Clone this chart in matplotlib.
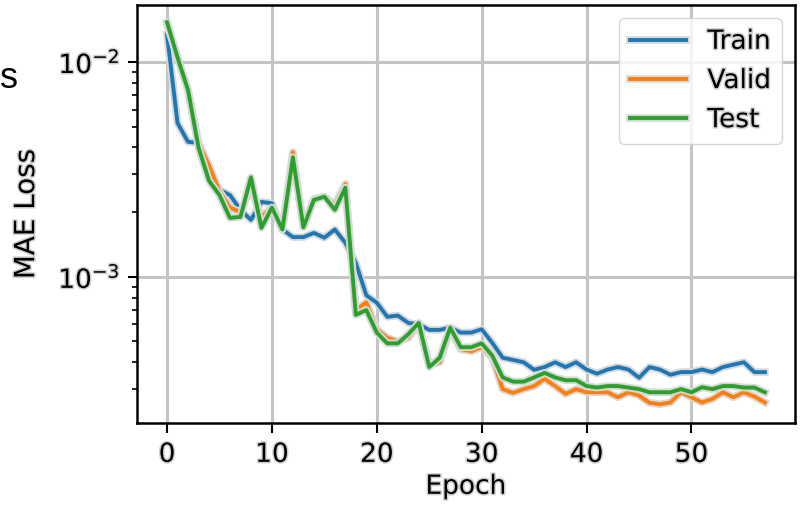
import matplotlib
matplotlib.use("Agg")
import matplotlib.pyplot as plt
import matplotlib.patheffects as pe
import numpy as np

epochs = list(range(58))
train = [0.0134, 0.0052, 0.00425, 0.0042, 0.00283, 0.00254, 0.0024, 0.00205, 0.00184, 0.00223,
         0.0022, 0.00166, 0.00153, 0.00153, 0.0016, 0.00152, 0.00166, 0.00144, 0.00116, 0.00082,
         0.000757, 0.000651, 0.00066, 0.00061, 0.0006, 0.000566, 0.000566, 0.00058, 0.00055, 0.00055,
         0.00057, 0.000493, 0.00042, 0.00041, 0.0004, 0.000369, 0.00038, 0.0004, 0.00038, 0.0004,
         0.00037, 0.000354, 0.00037, 0.00038, 0.00037, 0.000339, 0.00038, 0.00037, 0.00035, 0.00036,
         0.00036, 0.00037, 0.00036, 0.00038, 0.00039, 0.0004, 0.00036, 0.00036]
valid = [0.0150, 0.0105, 0.0074, 0.0042, 0.0033, 0.0025, 0.0021, 0.0020, 0.0026, 0.0019,
         0.0021, 0.00166, 0.0038, 0.0017, 0.0023, 0.00236, 0.00216, 0.0027, 0.0007, 0.00076,
         0.00057, 0.00052, 0.0005, 0.00052, 0.0006, 0.00039, 0.0004, 0.00057, 0.00046, 0.00045,
         0.00047, 0.00042, 0.00030, 0.000288, 0.0003, 0.00031, 0.000335, 0.00031, 0.000285, 0.0003,
         0.00029, 0.00029, 0.00029, 0.000275, 0.00029, 0.00028, 0.000259, 0.000255, 0.00026, 0.00029,
         0.000275, 0.00026, 0.00027, 0.00029, 0.000275, 0.00029, 0.000277, 0.00026]
test = [0.0153, 0.0105, 0.0074, 0.0040, 0.0028, 0.0024, 0.00188, 0.0019, 0.0029, 0.00169,
        0.0021, 0.00166, 0.0036, 0.0017, 0.00228, 0.00236, 0.00205, 0.0026, 0.000665, 0.0007,
        0.00055, 0.00049, 0.00049, 0.00054, 0.00061, 0.00038, 0.00042, 0.00058, 0.00047, 0.00047,
        0.00049, 0.00043, 0.00034, 0.000325, 0.000325, 0.00034, 0.000357, 0.00034, 0.00033, 0.00033,
        0.00031, 0.000305, 0.00031, 0.00031, 0.000305, 0.0003, 0.00029, 0.00029, 0.00029, 0.0003,
        0.00029, 0.000306, 0.0003, 0.00031, 0.00031, 0.000305, 0.000305, 0.00029]
series_labels = ["Train", "Valid", "Test"]
x_ticks = [0, 10, 20, 30, 40, 50]

FS = 19
halo = [pe.withStroke(linewidth=5.5, foreground="#d8d8d8")]
thalo = [pe.withStroke(linewidth=2.2, foreground="#cfcfcf")]

fig = plt.figure(figsize=(8.02, 5.07), dpi=100)
ax = fig.add_axes([0.171, 0.166, 0.820, 0.824])

for ys, lab, col in zip([train, valid, test], series_labels, ["tab:blue", "tab:orange", "tab:green"]):
    ax.plot(epochs, ys, color=col, lw=2.8, label=lab, path_effects=halo)

ax.set_yscale("log")
ax.set_ylim(0.000209, 0.0184)
ax.set_xticks(x_ticks)
ax.grid(True, which="major", color="#c4c4c4", lw=2.2)
ax.set_axisbelow(True)
for s in ax.spines.values():
    s.set_linewidth(1.8)
ax.tick_params(axis="x", which="major", labelsize=FS, length=7.2, width=1.5, pad=6.5)
ax.tick_params(axis="y", which="major", labelsize=FS, length=6.5, width=1.5, pad=6)
ax.tick_params(axis="y", which="minor", length=3.6, width=1.2)
for lbl in ax.get_xticklabels() + ax.get_yticklabels():
    lbl.set_path_effects(thalo)
ax.set_xlabel("Epoch", fontsize=FS, path_effects=thalo)
ax.set_ylabel("MAE Loss", fontsize=FS + 1, path_effects=thalo)
ax.xaxis.set_label_coords(0.5, -0.122)
ax.yaxis.set_label_coords(-0.1475, 0.5)

leg = ax.legend(loc="upper right", fontsize=FS, handlelength=2.15, framealpha=0.8)
for t in leg.get_texts():
    t.set_path_effects(thalo)

fig.text(0.0, 1 - 78 / 507, "s", fontsize=26, family="Liberation Sans", ha="left", va="center")

fig.savefig("out.png", dpi=100)
